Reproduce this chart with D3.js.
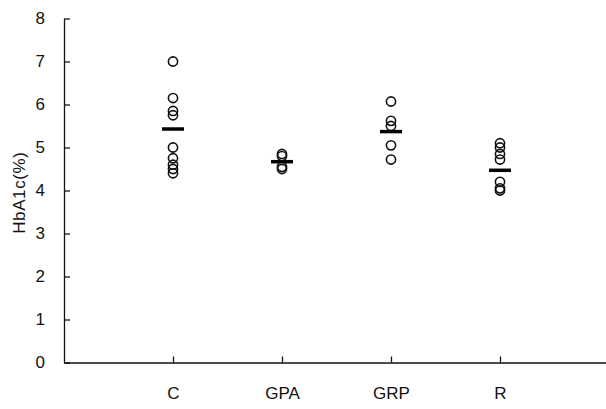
<!DOCTYPE html>
<html>
<head>
<meta charset="utf-8">
<script src="https://cdn.jsdelivr.net/npm/d3@7.9.0/dist/d3.min.js"></script>
<style>
  body { margin: 0; background: #fff; }
  svg { display: block; font-family: "Liberation Sans", Arial, sans-serif; }
</style>
</head>
<body>
<div id="chart"></div>
<script>
// Groups and their HbA1c readings
const groups = ['C', 'GPA', 'GRP', 'R'];
const valuesC = [7.0, 6.15, 5.85, 5.75, 5.0, 4.75, 4.6, 4.5, 4.4];
const valuesGPA = [4.85, 4.8, 4.55, 4.5];
const valuesGRP = [6.07, 5.62, 5.5, 5.05, 4.72];
const valuesR = [5.1, 5.0, 4.85, 4.72, 4.2, 4.05, 4.0];
const means = [5.43, 4.67, 5.37, 4.47];
const yTicks = [0, 1, 2, 3, 4, 5, 6, 7, 8];

const allValues = [valuesC, valuesGPA, valuesGRP, valuesR];
const points = allValues.flatMap((vals, i) => vals.map((v) => ({ group: i + 1, value: v })));

const width = 606;
const height = 409;

const svg = d3.select('#chart')
  .append('svg')
  .attr('width', width)
  .attr('height', height);

// x = group index, y = HbA1c
const x = d3.scaleLinear().domain([0, 5]).range([64, 609]);
const y = d3.scaleLinear().domain([0, 8]).range([362.5, 18.5]);

// Axes (ticks point inward)
const xAxis = d3.axisBottom(x)
  .tickValues([1, 2, 3, 4])
  .tickFormat((d) => groups[d - 1])
  .tickSizeInner(-6)
  .tickSizeOuter(0)
  .tickPadding(24);

const yAxis = d3.axisLeft(y)
  .tickValues(yTicks)
  .tickSizeInner(-6)
  .tickSizeOuter(0)
  .tickPadding(19);

const gx = svg.append('g')
  .attr('transform', `translate(0,${y(0)})`)
  .call(xAxis);

const gy = svg.append('g')
  .attr('transform', `translate(${x(0)},0)`)
  .call(yAxis);

[gx, gy].forEach((g) => {
  g.selectAll('path, line').attr('stroke', '#111').attr('stroke-width', 1.3);
  g.selectAll('text').attr('fill', '#111').attr('font-size', '17px');
});

// Y label
svg.append('text')
  .attr('transform', `translate(25,${y(3.95)}) rotate(-90)`)
  .attr('text-anchor', 'middle')
  .attr('font-size', '17px')
  .attr('letter-spacing', '0.6px')
  .attr('fill', '#111')
  .text('HbA1c(%)');

// Individual readings
svg.selectAll('circle')
  .data(points)
  .enter()
  .append('circle')
  .attr('cx', (d) => x(d.group))
  .attr('cy', (d) => y(d.value))
  .attr('r', 4.6)
  .attr('fill', 'none')
  .attr('stroke', '#111')
  .attr('stroke-width', 1.6);

// Group means
svg.selectAll('.mean')
  .data(means)
  .enter()
  .append('line')
  .attr('class', 'mean')
  .attr('x1', (d, i) => x(i + 1) - 11)
  .attr('x2', (d, i) => x(i + 1) + 11)
  .attr('y1', (d) => y(d))
  .attr('y2', (d) => y(d))
  .attr('stroke', '#000')
  .attr('stroke-width', 3.5);
</script>
</body>
</html>
